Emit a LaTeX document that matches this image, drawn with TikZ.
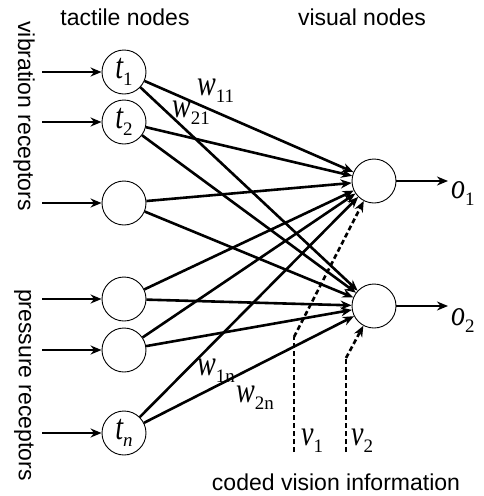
\documentclass[tikz,border=0pt]{standalone}
\usepackage{fontspec}
\setmainfont{Liberation Sans}
\newfontfamily\tms{Liberation Serif}
\usetikzlibrary{arrows.meta}
\newcommand{\ml}[2]{{\tms\fontsize{36}{36}\selectfont\scalebox{0.78}[1]{\itshape #1}}\raisebox{-7pt}{\tms\fontsize{19}{19}\selectfont #2}}
\begin{document}
\begin{tikzpicture}[x=1pt,y=-1pt,
  neuron/.style={circle,draw,line width=0.9pt,minimum size=44pt,inner sep=0pt},
  conn/.style={line width=2.6pt,-{Stealth[length=11pt,width=9pt]}},
  vis/.style={line width=2.6pt,dash pattern=on 5pt off 3pt,-{Stealth[length=11pt,width=9pt]}},
  vline/.style={line width=2.6pt,dash pattern=on 5pt off 3pt},
  txt/.style={font=\fontsize{23}{27}\selectfont,inner sep=0pt},
  lab/.style={inner sep=0pt,anchor=base west}]
\useasboundingbox (0,0) rectangle (484,496);
% tactile nodes
\node[neuron] (t1) at (124,72) {\ml{t}{1}};
\node[neuron] (t2) at (124,122) {\ml{t}{2}};
\node[neuron] (t3) at (124,203) {};
\node[neuron] (t4) at (124,299) {};
\node[neuron] (t5) at (124,350) {};
\node[neuron] (tn) at (124,433) {\ml{t}{\itshape n}};
% visual nodes
\node[neuron] (o1) at (374,181) {};
\node[neuron] (o2) at (374,306) {};
% input starts
\foreach \i/\y in {1/72,2/122,3/203,4/299,5/350,n/433}{
  \coordinate (in\i) at (42,\y);
  \draw[conn] (in\i) -- (t\i);
}
% connections
\foreach \i in {1,2,3,4,5,n}{
  \draw[conn] (t\i) -- (o1);
  \draw[conn] (t\i) -- (o2);
}
% outputs
\coordinate (out1) at (448,181);
\coordinate (out2) at (448,306);
\draw[conn] (o1) -- (out1);
\draw[conn] (o2) -- (out2);
\node[lab] (lo1) at (451,198) {\ml{o}{1}};
\node[lab] (lo2) at (451,325) {\ml{o}{2}};
% vision inputs
\coordinate (v1s) at (294,452);
\coordinate (v1b) at (294,337);
\coordinate (v2s) at (346,452);
\coordinate (v2b) at (346,358);
\draw[vline] (v1s) -- (v1b);
\draw[vis] (v1b) -- (o1);
\draw[vline] (v2s) -- (v2b);
\draw[vis] (v2b) -- (o2);
\node[lab] (lv1) at (301,445) {\ml{v}{1}};
\node[lab] (lv2) at (351,445) {\ml{v}{2}};
% weights
\node[lab] (w11) at (197,95) {\ml{w}{11}};
\node[lab] (w21) at (172,117) {\ml{w}{21}};
\node[lab] (w1n) at (197,375) {\ml{w}{1n}};
\node[lab] (w2n) at (236,402) {\ml{w}{2n}};
% texts
\node[txt,anchor=base] (tt) at (125,25) {tactile nodes};
\node[txt,anchor=base] (vt) at (362,25) {visual nodes};
\node[txt,anchor=base] (ct) at (336,490) {coded vision information};
\node[txt,rotate=-90] (vr) at (24,116) {vibration receptors};
\node[txt,rotate=-90] (pr) at (24,385) {pressure receptors};
\end{tikzpicture}
\end{document}
